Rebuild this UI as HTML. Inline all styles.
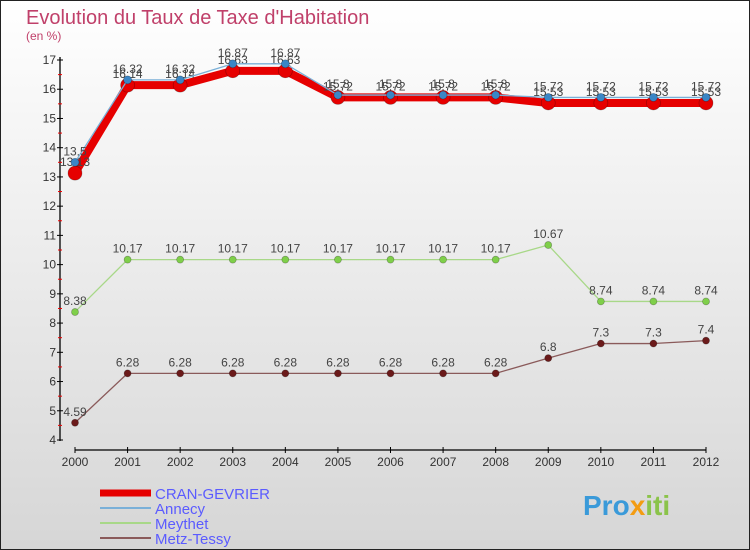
<!DOCTYPE html>
<html><head><meta charset="utf-8"><style>
body{margin:0;width:750px;height:550px;overflow:hidden}
svg{display:block;font-family:"Liberation Sans",sans-serif}
</style></head><body>
<svg width="750" height="550">
<defs><linearGradient id="bg" x1="0" y1="0" x2="0" y2="1"><stop offset="0" stop-color="#ffffff"/><stop offset="1" stop-color="#d6d6d6"/></linearGradient></defs>
<rect x="0.5" y="0.5" width="749" height="549" fill="url(#bg)" stroke="#222"/>
<text x="26" y="24" font-size="20" fill="#c0406a">Evolution du Taux de Taxe d'Habitation</text>
<text x="26" y="40" font-size="12" fill="#c0406a">(en %)</text>
<g id="axes"></g><g id="series"></g><g id="legend"></g>
<text x="583" y="515" font-size="28" font-weight="bold" fill="#3a9ad9">Pro<tspan fill="#f39c12">x</tspan><tspan fill="#8bc34a">iti</tspan></text>
</svg>
<script>
const years=[2000,2001,2002,2003,2004,2005,2006,2007,2008,2009,2010,2011,2012];
const cranGevrier=[13.13,16.14,16.14,16.63,16.63,15.72,15.72,15.72,15.72,15.53,15.53,15.53,15.53];
const annecy=[13.5,16.32,16.32,16.87,16.87,15.8,15.8,15.8,15.8,15.72,15.72,15.72,15.72];
const meythet=[8.38,10.17,10.17,10.17,10.17,10.17,10.17,10.17,10.17,10.67,8.74,8.74,8.74];
const metzTessy=[4.59,6.28,6.28,6.28,6.28,6.28,6.28,6.28,6.28,6.8,7.3,7.3,7.4];
const yTicks=[4,5,6,7,8,9,10,11,12,13,14,15,16,17];
const NS="http://www.w3.org/2000/svg";
const xs=i=>75+i*(706-75)/(years.length-1);
const ys=v=>440-(v-4)*(380/13);
function mk(p,t,a){const e=document.createElementNS(NS,t);for(const k in a)e.setAttribute(k,a[k]);p.appendChild(e);return e;}
const ax=document.getElementById('axes');
let l=mk(ax,'line',{x1:60,y1:57,x2:60,y2:441,stroke:'#000','stroke-width':1.3});


l=mk(ax,'line',{x1:75,y1:450,x2:706,y2:450,stroke:'#000','stroke-width':1.3});


yTicks.forEach((v,i)=>{
 mk(ax,'line',{x1:57,y1:ys(v),x2:63,y2:ys(v),stroke:'#000'});
 if(i<yTicks.length-1)mk(ax,'line',{x1:58,y1:ys(v+0.5),x2:62,y2:ys(v+0.5),stroke:'#e00'});
 const t=mk(ax,'text',{x:56,y:ys(v)+4,'font-size':12,fill:'#333','text-anchor':'end'});t.textContent=v;
 
 
});
years.forEach((y,i)=>{
 mk(ax,'line',{x1:xs(i),y1:447,x2:xs(i),y2:453,stroke:'#000'});
 const t=mk(ax,'text',{x:xs(i),y:466,'font-size':12,fill:'#333','text-anchor':'middle'});t.textContent=y;
 
 
});
const sg=document.getElementById('series');
function series(name,data,col,w,r,dot){
 const g=mk(sg,'g',{});
 
 
 mk(g,'polyline',{points:data.map((v,i)=>xs(i)+','+ys(v)).join(' '),fill:'none',stroke:col,'stroke-width':w,'stroke-linejoin':'round'});
 data.forEach((v,i)=>{
  const c=mk(g,'circle',{cx:xs(i),cy:ys(v),r:r,fill:dot,stroke:'rgba(0,0,0,0.3)','stroke-width':0.7});
  
  
  const t=mk(g,'text',{x:xs(i),y:ys(v)-7,'font-size':12,fill:'#444','text-anchor':'middle'});t.textContent=v;
  
  
 });
}
series('metz-tessy',metzTessy,'#8a5a5a',1.3,3.5,'#6b1a1a');
series('meythet',meythet,'#a8d888',1.3,3.5,'#7fcf4a');
series('cran-gevrier',cranGevrier,'#e60000',8,7,'#e60000');
series('annecy',annecy,'#7ab0d8',1.3,4,'#3a86c6');
const lg=document.getElementById('legend');
const items=[['CRAN-GEVRIER','#e60000',7],['Annecy','#7ab0d8',2],['Meythet','#a8d888',2],['Metz-Tessy','#8a5a5a',2]];
items.forEach((it,i)=>{
 const y=493+i*15;
 const g=mk(lg,'g',{});
 
 
 mk(g,'line',{x1:100,y1:y,x2:151,y2:y,stroke:it[1],'stroke-width':it[2]});
 const t=mk(g,'text',{x:155,y:y+6,'font-size':15,fill:'#5b5bff'});t.textContent=it[0];
});
</script>
</body></html>
